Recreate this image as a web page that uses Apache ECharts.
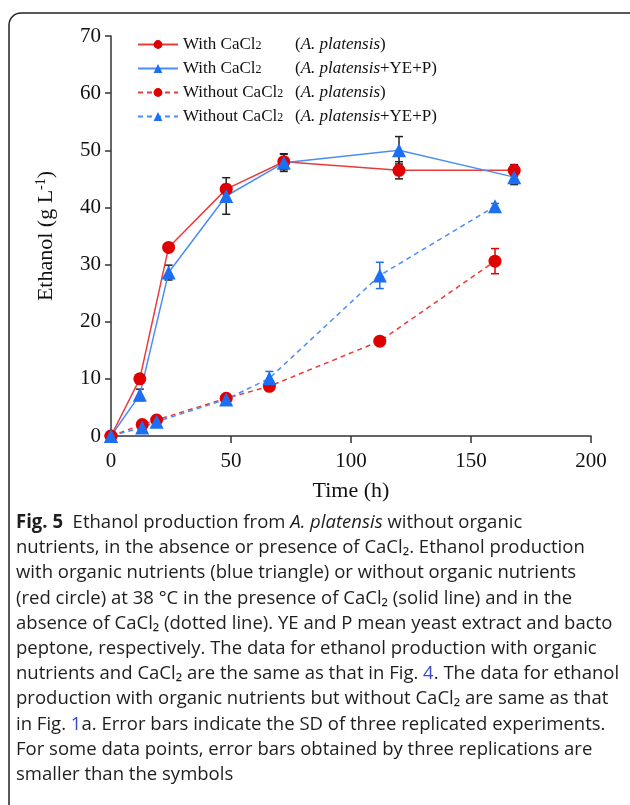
<!DOCTYPE html>
<html>
<head>
<meta charset="utf-8">
<script src="https://cdn.jsdelivr.net/npm/echarts@6/dist/echarts.min.js"></script>
<style>
html,body{margin:0;padding:0;background:#fff;}
#main{width:630px;height:805px;}
</style>
</head>
<body>
<div id="main"></div>
<script>
// data
var timeA = [0, 12, 24, 48, 72, 120, 168];
var redSolid = [0, 10, 33, 43.2, 48, 46.5, 46.5];
var redSolidErr = [0, 0.3, 0.6, 0.8, 1.4, 1.5, 1.0];
var blueSolid = [0, 7.2, 28.6, 42, 47.8, 50, 45.3];
var blueSolidErr = [0, 1.0, 1.3, 3.2, 1.5, 2.4, 1.3];

var timeB = [0, 13, 19, 48, 66, 112, 160];
var redDash = [0, 2, 2.8, 6.6, 8.7, 16.6, 30.6];
var redDashErr = [0, 0.3, 0.3, 0.3, 0.4, 0.5, 2.2];
var blueDash = [0, 1.5, 2.5, 6.4, 10.1, 28.1, 40.2];
var blueDashErr = [0, 0.3, 0.3, 0.4, 1.2, 2.3, 0.5];

var legendNames = ['redSolid', 'blueSolid', 'redDash', 'blueDash'];
var legendLeft = ['With CaCl', 'With CaCl', 'Without CaCl', 'Without CaCl'];
var legendRight = ['', '+YE+P', '', '+YE+P'];

var RED = '#e00000', REDLINE = '#e83c3c';
var BLUE = '#1c6ef2', BLUELINE = '#4b8df5';

var serif = '"Liberation Serif", "Times New Roman", serif';
var sans = '"Open Sans", "Noto Sans", sans-serif';

// measure text so the "(A. platensis" column lines up
var ctx = document.createElement('canvas').getContext('2d');
function textW(str, size) {
    ctx.font = size + 'px ' + serif;
    return ctx.measureText(str).width;
}

function pairs(t, v) {
    var out = [];
    for (var i = 0; i < t.length; i++) out.push([t[i], v[i]]);
    return out;
}
function errData(t, v, e) {
    var out = [];
    for (var i = 0; i < t.length; i++) {
        if (e[i] > 0) out.push([t[i], v[i] - e[i], v[i] + e[i]]);
    }
    return out;
}
function errSeries(t, v, e, color) {
    return {
        type: 'custom',
        z: 1,
        silent: true,
        data: errData(t, v, e),
        renderItem: function (params, api) {
            var lo = api.coord([api.value(0), api.value(1)]);
            var hi = api.coord([api.value(0), api.value(2)]);
            var w = 4;
            var st = { stroke: color, lineWidth: 1.5 };
            return {
                type: 'group',
                children: [
                    { type: 'line', shape: { x1: lo[0], y1: lo[1], x2: hi[0], y2: hi[1] }, style: st },
                    { type: 'line', shape: { x1: lo[0] - w, y1: lo[1], x2: lo[0] + w, y2: lo[1] }, style: st },
                    { type: 'line', shape: { x1: hi[0] - w, y1: hi[1], x2: hi[0] + w, y2: hi[1] }, style: st }
                ]
            };
        }
    };
}
function lineSeries(name, t, v, mark, lineColor, dashed, size) {
    return {
        name: name,
        type: 'line',
        z: 3,
        data: pairs(t, v),
        symbol: mark,
        symbolSize: size,
        showAllSymbol: true,
        itemStyle: { color: mark == 'circle' ? RED : BLUE },
        lineStyle: { color: lineColor, width: 1.5, type: dashed ? [5, 4] : 'solid' },
        emphasis: { disabled: true },
        animation: false
    };
}

var myChart = echarts.init(document.getElementById('main'));

var caption = '{b|Fig. 5}  Ethanol production from {i|A. platensis} without organic\n' +
    'nutrients, in the absence or presence of CaCl₂. Ethanol production\n' +
    'with organic nutrients (blue triangle) or without organic nutrients\n' +
    '(red circle) at 38 °C in the presence of CaCl₂ (solid line) and in the\n' +
    'absence of CaCl₂ (dotted line). YE and P mean yeast extract and bacto\n' +
    'peptone, respectively. The data for ethanol production with organic\n' +
    'nutrients and CaCl₂ are the same as that in Fig. {l|4}. The data for ethanol\n' +
    'production with organic nutrients but without CaCl₂ are same as that\n' +
    'in Fig. {l|1}a. Error bars indicate the SD of three replicated experiments.\n' +
    'For some data points, error bars obtained by three replications are\n' +
    'smaller than the symbols';

var legendText0 = 182; // legend left + icon width + gap
var legendCol = 294;   // where "(" starts

function gapStyle(i) {
    return { width: legendCol - legendText0 - textW(legendLeft[i], 17) - textW('2', 12) };
}

var option = {
    backgroundColor: '#fff',
    animation: false,
    grid: { left: 111, right: 39, top: 36, bottom: 369, containLabel: false },
    legend: {
        orient: 'vertical',
        left: 137,
        top: 36,
        padding: 0,
        itemWidth: 40,
        itemHeight: 11,
        itemGap: 7,
        data: legendNames,
        formatter: function (name) {
            var i = legendNames.indexOf(name);
            return '{a|' + legendLeft[i] + '}{s|2}{g' + i + '|}{p|(}{i|A. platensis}{p|' + legendRight[i] + ')}';
        },
        textStyle: {
            fontFamily: serif,
            fontSize: 17,
            color: '#111',
            rich: {
                a: { fontFamily: serif, fontSize: 17, color: '#111' },
                s: { fontFamily: serif, fontSize: 12, color: '#111', padding: [3, 0, 0, 0] },
                g0: gapStyle(0),
                g1: gapStyle(1),
                g2: gapStyle(2),
                g3: gapStyle(3),
                p: { fontFamily: serif, fontSize: 17, color: '#111' },
                i: { fontFamily: serif, fontSize: 17, fontStyle: 'italic', color: '#111' }
            }
        }
    },
    xAxis: {
        type: 'value',
        min: 0,
        max: 200,
        interval: 50,
        name: 'Time (h)',
        nameLocation: 'middle',
        nameGap: 44,
        nameTextStyle: { fontFamily: serif, fontSize: 22, color: '#111' },
        axisLine: { lineStyle: { color: '#333', width: 1.5 } },
        axisTick: { length: 7, lineStyle: { color: '#333', width: 1.5 } },
        axisLabel: { fontFamily: serif, fontSize: 21, color: '#111', margin: 15 },
        splitLine: { show: false }
    },
    yAxis: {
        type: 'value',
        min: 0,
        max: 70,
        interval: 10,
        name: '{t|Ethanol (g L}{u|-1}{t|)}',
        nameLocation: 'middle',
        nameGap: 53,
        nameRotate: 90,
        nameTextStyle: {
            rich: {
                t: { fontFamily: serif, fontSize: 22, color: '#111' },
                u: { fontFamily: serif, fontSize: 14, color: '#111', padding: [0, 0, 10, 0] }
            }
        },
        axisLine: { show: true, lineStyle: { color: '#333', width: 1.5 } },
        axisTick: { show: true, length: 6, lineStyle: { color: '#333', width: 1.5 } },
        axisLabel: { fontFamily: serif, fontSize: 21, color: '#111', margin: 10 },
        splitLine: { show: false }
    },
    graphic: [
        {
            type: 'rect',
            shape: { x: 9, y: 13, width: 700, height: 900, r: 12 },
            style: { fill: 'none', stroke: '#222', lineWidth: 1.5 },
            silent: true
        },
        {
            type: 'text',
            x: 16,
            y: 510,
            scaleX: 0.975,
            style: {
                text: caption,
                fontFamily: sans,
                fontSize: 19,
                lineHeight: 25.2,
                fill: '#1e1e1e',
                rich: {
                    b: { fontFamily: sans, fontSize: 19, fontWeight: 'bold', fill: '#1e1e1e' },
                    i: { fontFamily: sans, fontSize: 19, fontStyle: 'italic', fill: '#1e1e1e' },
                    l: { fontFamily: sans, fontSize: 19, fill: '#3b45c8' }
                }
            }
        }
    ],
    series: [
        errSeries(timeB, redDash, redDashErr, RED),
        errSeries(timeB, blueDash, blueDashErr, BLUE),
        errSeries(timeA, redSolid, redSolidErr, '#222'),
        errSeries(timeA, blueSolid, blueSolidErr, '#222'),
        lineSeries('redDash', timeB, redDash, 'circle', REDLINE, true, 13),
        lineSeries('blueDash', timeB, blueDash, 'triangle', BLUELINE, true, 14),
        lineSeries('redSolid', timeA, redSolid, 'circle', REDLINE, false, 13),
        lineSeries('blueSolid', timeA, blueSolid, 'triangle', BLUELINE, false, 14)
    ]
};

myChart.setOption(option);
</script>
</body>
</html>
